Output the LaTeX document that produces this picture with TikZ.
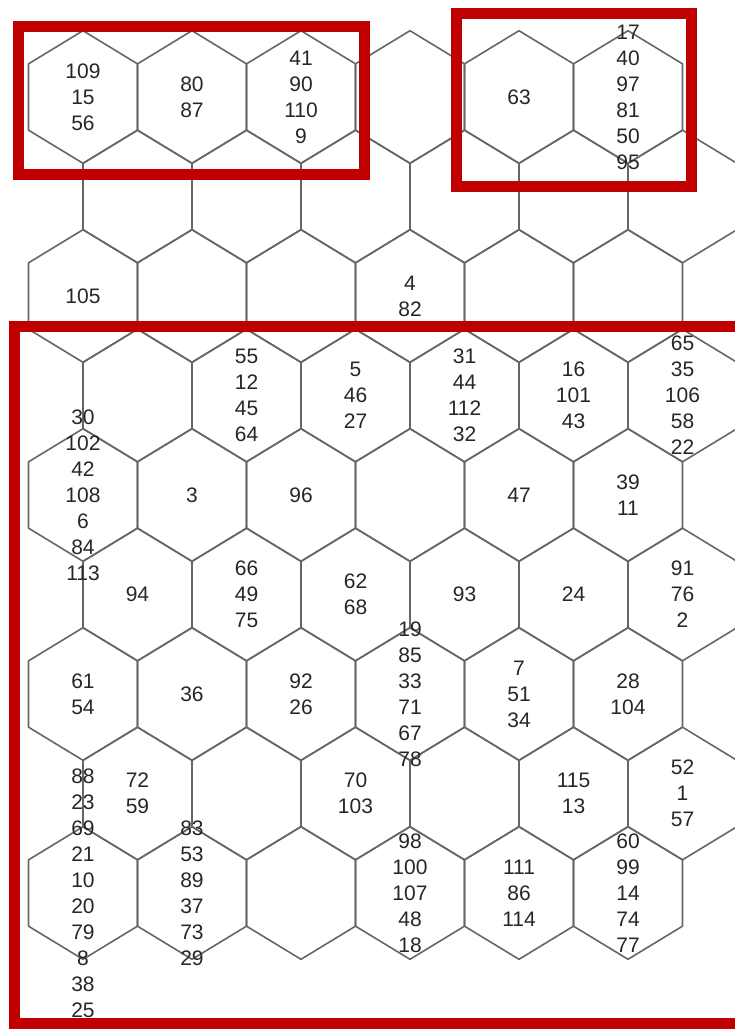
\documentclass[tikz,border=0pt]{standalone}
\usepackage{fontspec}
\setmainfont{Liberation Sans}
\usetikzlibrary{positioning}
\definecolor{framered}{RGB}{192,0,0}
\tikzset{
  cellline/.style={draw=black!60, line width=1.6pt, line join=round},
  cellnum/.style={font=\fontsize{21}{26}\selectfont, align=center, inner sep=0pt, text=black!85},
  redframe/.style={draw=framered, line width=11pt}
}

\begin{document}
\begin{tikzpicture}[x=1pt, y=-1pt]
  \useasboundingbox (0,0) rectangle (735,1030);
  \clip (0,0) rectangle (735,1030);

  \foreach \r in {1,...,9} {
    \foreach \j in {0,...,5} {
      \pgfmathsetmacro\cx{83+54.5*(1-mod(\r,2))+109*\j}
      \pgfmathsetmacro\cy{97+99.5*(\r-1)}
      \coordinate (h-\r-\j) at (\cx,\cy);
      \draw[cellline] (\cx,\cy-66.3) -- ++(54.5,33.15) -- ++(0,66.3) -- ++(-54.5,33.15) -- ++(-54.5,-33.15) -- ++(0,-66.3) -- cycle;
    }
  }

  \node[cellnum] (c109) at (h-1-0) {109\\15\\56};
  \node[cellnum] (c80) at (h-1-1) {80\\87};
  \node[cellnum] (c41) at (h-1-2) {41\\90\\110\\9};
  \node[cellnum] (c63) at (h-1-4) {63};
  \node[cellnum] (c17) at (h-1-5) {17\\40\\97\\81\\50\\95};
  \node[cellnum] (c105) at (h-3-0) {105};
  \node[cellnum] (c4) at (h-3-3) {4\\82};
  \node[cellnum] (c55) at (h-4-1) {55\\12\\45\\64};
  \node[cellnum] (c5) at (h-4-2) {5\\46\\27};
  \node[cellnum] (c31) at (h-4-3) {31\\44\\112\\32};
  \node[cellnum] (c16) at (h-4-4) {16\\101\\43};
  \node[cellnum] (c65) at (h-4-5) {65\\35\\106\\58\\22};
  \node[cellnum] (c30) at (h-5-0) {30\\102\\42\\108\\6\\84\\113};
  \node[cellnum] (c3) at (h-5-1) {3};
  \node[cellnum] (c96) at (h-5-2) {96};
  \node[cellnum] (c47) at (h-5-4) {47};
  \node[cellnum] (c39) at (h-5-5) {39\\11};
  \node[cellnum] (c94) at (h-6-0) {94};
  \node[cellnum] (c66) at (h-6-1) {66\\49\\75};
  \node[cellnum] (c62) at (h-6-2) {62\\68};
  \node[cellnum] (c93) at (h-6-3) {93};
  \node[cellnum] (c24) at (h-6-4) {24};
  \node[cellnum] (c91) at (h-6-5) {91\\76\\2};
  \node[cellnum] (c61) at (h-7-0) {61\\54};
  \node[cellnum] (c36) at (h-7-1) {36};
  \node[cellnum] (c92) at (h-7-2) {92\\26};
  \node[cellnum] (c19) at (h-7-3) {19\\85\\33\\71\\67\\78};
  \node[cellnum] (c7) at (h-7-4) {7\\51\\34};
  \node[cellnum] (c28) at (h-7-5) {28\\104};
  \node[cellnum] (c72) at (h-8-0) {72\\59};
  \node[cellnum] (c70) at (h-8-2) {70\\103};
  \node[cellnum] (c115) at (h-8-4) {115\\13};
  \node[cellnum] (c52) at (h-8-5) {52\\1\\57};
  \node[cellnum] (c88) at (h-9-0) {88\\23\\69\\21\\10\\20\\79\\8\\38\\25};
  \node[cellnum] (c83) at (h-9-1) {83\\53\\89\\37\\73\\29};
  \node[cellnum] (c98) at (h-9-3) {98\\100\\107\\48\\18};
  \node[cellnum] (c111) at (h-9-4) {111\\86\\114};
  \node[cellnum] (c60) at (h-9-5) {60\\99\\14\\74\\77};

  \draw[redframe] (18,26.5) rectangle (364,174);
  \draw[redframe] (456,14) rectangle (691.5,186);
  \draw[redframe] (14,326) rectangle (760,1023);
\end{tikzpicture}
\end{document}
